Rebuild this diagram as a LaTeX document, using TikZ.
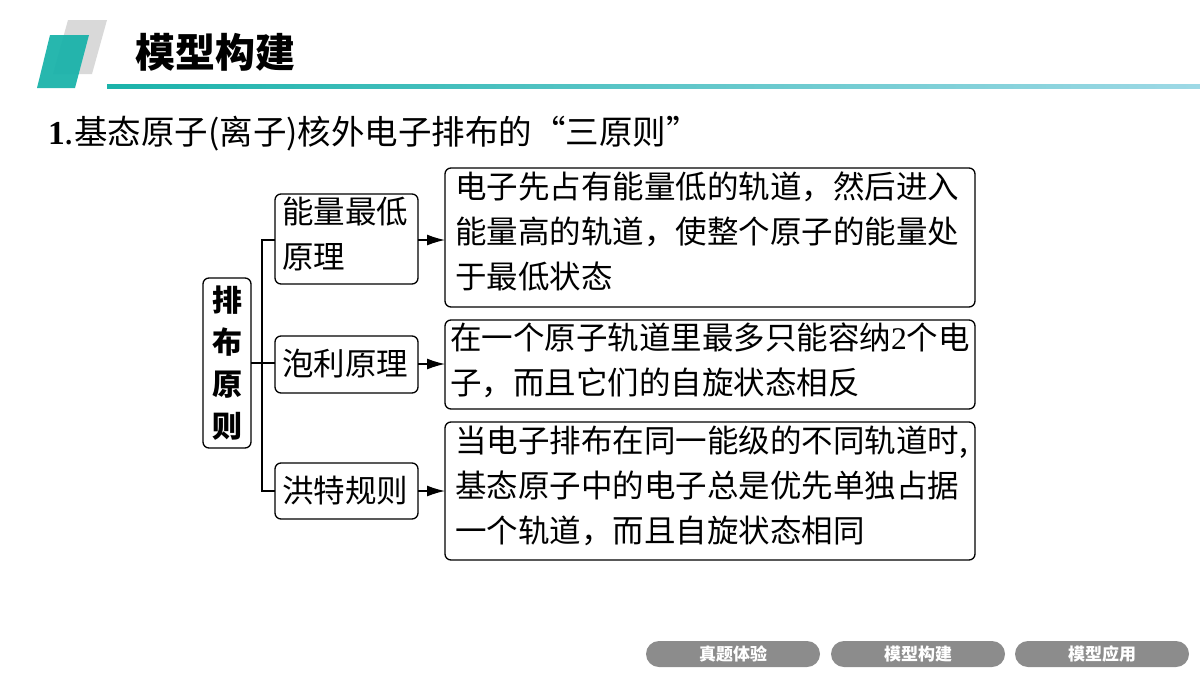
\documentclass[tikz,border=0pt]{standalone}
\usepackage{fontspec}
\setmainfont{Liberation Serif}
\newfontfamily\cjk{Noto Sans CJK SC}
\usetikzlibrary{positioning,arrows.meta}
\definecolor{teal}{HTML}{1BB3AA}
\definecolor{lightteal}{HTML}{9ED9E6}
\definecolor{pill}{HTML}{8C8C8C}
\tikzset{
  rbox/.style={draw, line width=1.3pt, rounded corners=6pt, inner sep=0pt},
  txt/.style={font=\cjk\fontsize{31.5}{45}\selectfont, align=left, anchor=north west, inner sep=0pt},
  link/.style={line width=1.3pt},
  arr/.style={line width=1.3pt, -{Latex[length=18pt,width=11pt]}},
  btn/.style={fill=pill, rounded corners=13pt, minimum width=174pt, minimum height=26pt, text=white, font=\cjk\bfseries\fontsize{17}{17}\selectfont}
}
\begin{document}
\begin{tikzpicture}[x=1pt,y=-1pt]
\useasboundingbox (0,0) rectangle (1200,675);

% header
\fill[gray!30] (68,20) -- (107,20) -- (92,74) -- (53,74) -- cycle;
\fill[teal, opacity=.95] (50,35) -- (89,35) -- (75,88) -- (37,88) -- cycle;
\shade[left color=teal, right color=lightteal] (107,84) rectangle (1200,88);
\node[anchor=west, font=\cjk\bfseries\fontsize{40}{40}\selectfont, inner sep=0pt] (title) at (135,52) {模型构建};

% heading
\node[anchor=west, font=\cjk\fontsize{33.5}{33.5}\selectfont, inner sep=0pt] (head) at (48,134) {{\rmfamily\bfseries 1}.基态原子(离子)核外电子排布的“三原则”};

% root
\draw[rbox] (203,278) rectangle (251,448);
\node[font=\cjk\bfseries\fontsize{30}{42}\selectfont, align=center] (root) at (227,363) {排\\布\\原\\则};
\coordinate (rootE) at (251,363);

% middle boxes
\draw[rbox] (275,194) rectangle (418,284);
\node[txt] (m1) at (282,197) {能量最低\\原理};
\draw[rbox] (275,336) rectangle (418,393);
\node[txt, anchor=west] (m2) at (282,364) {泡利原理};
\draw[rbox] (275,463) rectangle (418,519);
\node[txt, anchor=west] (m3) at (282,491) {洪特规则};

% right boxes
\draw[rbox] (445,168) rectangle (975,307);
\node[txt] (r1) at (455,172) {电子先占有能量低的轨道，然后进入\\能量高的轨道，使整个原子的能量处\\于最低状态};
\draw[rbox] (445,320) rectangle (975,409);
\node[txt] (r2) at (450,323) {在一个原子轨道里最多只能容纳{\rmfamily 2}个电\\子，而且它们的自旋状态相反};
\draw[rbox] (445,422) rectangle (975,560);
\node[txt] (r3) at (455,426) {当电子排布在同一能级的不同轨道时,\\基态原子中的电子总是优先单独占据\\一个轨道，而且自旋状态相同};

% connectors
\draw[link] (rootE) -- (275,363);
\draw[link] (275,240) -- (262,240) -- (262,491) -- (275,491);
\draw[arr] (418,240) -- (445,240);
\draw[arr] (418,364) -- (445,364);
\draw[arr] (418,491) -- (445,491);

% buttons
\node[btn] (b1) at (733,654) {真题体验};
\node[btn] (b2) at (918,654) {模型构建};
\node[btn] (b3) at (1102,654) {模型应用};
\end{tikzpicture}
\end{document}
